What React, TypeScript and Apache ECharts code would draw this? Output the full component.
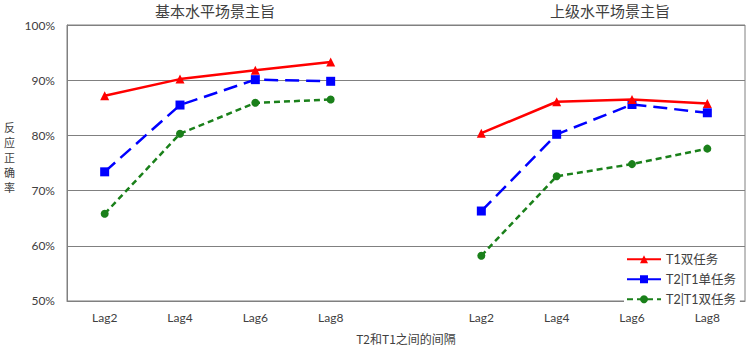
import React, { useEffect, useRef } from "react";
import * as echarts from "echarts";

const categories = ["Lag2", "Lag4", "Lag6", "Lag8", "", "Lag2", "Lag4", "Lag6", "Lag8"];
const t1Dual = [87.2, 90.2, 91.8, 93.3, null, 80.4, 86.1, 86.5, 85.8];
const t2Single = [73.4, 85.5, 90.1, 89.8, null, 66.3, 80.2, 85.6, 84.1];
const t2Dual = [65.8, 80.3, 85.9, 86.5, null, 58.2, 72.6, 74.8, 77.6];
const seriesNames = ["T1双任务", "T2|T1单任务", "T2|T1双任务"];
const titles = ["基本水平场景主旨", "上级水平场景主旨"];
const yName = "反应正确率";
const yTicks = [50, 60, 70, 80, 90, 100];

const latin = "Lato, 'Noto Sans CJK SC', sans-serif";
const cjk = "'Noto Sans CJK SC', sans-serif";

export default function App() {
  const ref = useRef<HTMLDivElement>(null);
  useEffect(() => {
    if (!ref.current) return;
    const chart = echarts.init(ref.current, null, { renderer: "svg" });
    const yNameChars = yName.split("").map((ch, i) => ({
      type: "text",
      left: 4,
      top: 121 + i * 15,
      style: { text: ch, fontFamily: cjk, fontSize: 11, fill: "#404040" },
    }));
    chart.setOption({
      animation: false,
      backgroundColor: "#fff",
      title: [
        { text: titles[0], left: 215, top: 3, padding: 0, textAlign: "center", textStyle: { fontFamily: cjk, fontSize: 15, fontWeight: "normal", color: "#404040" } },
        { text: titles[1], left: 610, top: 3, padding: 0, textAlign: "center", textStyle: { fontFamily: cjk, fontSize: 15, fontWeight: "normal", color: "#404040" } },
      ],
      graphic: yNameChars,
      grid: { left: 67, right: 4, top: 25, bottom: 47, show: true, borderColor: "#808080", borderWidth: 1 },
      legend: {
        data: seriesNames,
        orient: "vertical",
        left: 624,
        top: 251,
        itemWidth: 34,
        itemHeight: 10,
        itemGap: 7.5,
        backgroundColor: "#fff",
        padding: [2, 4, 2, 2],
        textStyle: { fontFamily: latin, fontSize: 12.5, color: "#404040" },
      },
      xAxis: {
        type: "category",
        data: categories,
        boundaryGap: true,
        name: "T2和T1之间的间隔",
        nameLocation: "middle",
        nameGap: 31,
        nameTextStyle: { fontFamily: cjk, fontSize: 12, color: "#404040" },
        axisLine: { lineStyle: { color: "#808080", width: 1 } },
        axisTick: { alignWithLabel: true, length: 3, lineStyle: { color: "#808080" } },
        axisLabel: { fontFamily: latin, fontSize: 12, color: "#404040", margin: 10, interval: 0 },
      },
      yAxis: {
        type: "value",
        min: 50,
        max: 100,
        interval: 10,
        axisLine: { show: true, lineStyle: { color: "#808080", width: 1 } },
        axisTick: { show: false },
        splitLine: { lineStyle: { color: "#808080", width: 1 } },
        axisLabel: {
          fontFamily: latin,
          fontSize: 12,
          color: "#404040",
          margin: 12,
          formatter: (v: number) => (yTicks.includes(v) ? v + "%" : ""),
        },
      },
      series: [
        {
          name: seriesNames[0],
          type: "line",
          data: t1Dual,
          connectNulls: false,
          symbol: "triangle",
          symbolSize: 9,
          itemStyle: { color: "#ff0000" },
          lineStyle: { color: "#ff0000", width: 2.5, type: "solid" },
          z: 4,
        },
        {
          name: seriesNames[1],
          type: "line",
          data: t2Single,
          connectNulls: false,
          symbol: "rect",
          symbolSize: 9,
          itemStyle: { color: "#0000ff" },
          lineStyle: { color: "#0000ff", width: 2.5, type: [14, 7] },
          z: 3,
        },
        {
          name: seriesNames[2],
          type: "line",
          data: t2Dual,
          connectNulls: false,
          symbol: "circle",
          symbolSize: 8,
          itemStyle: { color: "#1a801a" },
          lineStyle: { color: "#1a801a", width: 2.5, type: [6, 4] },
          z: 2,
        },
      ],
    });
    return () => chart.dispose();
  }, []);
  return <div ref={ref} style={{ width: 749, height: 349, position: "absolute", left: 0, top: 0 }} />;
}
